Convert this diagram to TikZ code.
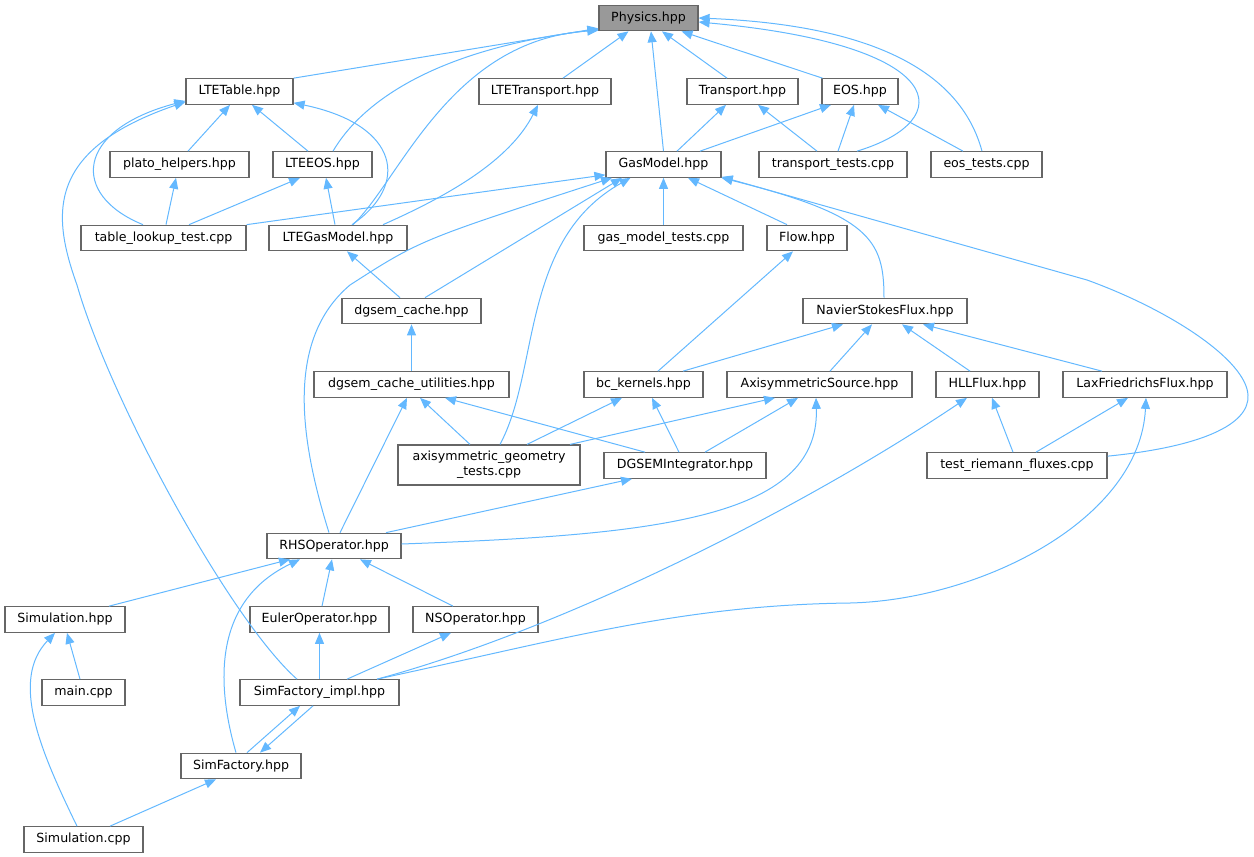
\documentclass[tikz,border=0pt]{standalone}
\usepackage{fontspec}
\setmainfont{DejaVu Sans}
\usetikzlibrary{arrows.meta}
\definecolor{edgeblue}{HTML}{63B8FF}
\definecolor{boxgray}{HTML}{666666}
\definecolor{physgray}{HTML}{999999}

\begin{document}
\begin{tikzpicture}[x=1pt, y=-1pt,
    file/.style={draw=boxgray, line width=1.2pt, fill=white, rectangle, inner sep=0pt,
      minimum height=25.5pt, font=\fontsize{12.6}{15}\selectfont},
    dep/.style={draw=edgeblue, line width=1pt, -{Triangle[length=11pt,width=9pt]}}]
    \useasboundingbox (0,0) rectangle (1254,857);

    % Include files, row by row
    \node[file, fill=physgray, minimum width=99pt] (physics) at (648.5,18) {Physics.hpp};

    \node[file, minimum width=107pt] (ltetable) at (239.5,91.5) {LTETable.hpp};
    \node[file, minimum width=132pt] (ltetransport) at (545,91.5) {LTETransport.hpp};
    \node[file, minimum width=111pt] (transport) at (742.5,91.5) {Transport.hpp};
    \node[file, minimum width=76pt] (eos) at (860,91.5) {EOS.hpp};

    \node[file, minimum width=139pt] (plato) at (179.5,164.5) {plato\_helpers.hpp};
    \node[file, minimum width=99pt] (lteeos) at (322.5,164.5) {LTEEOS.hpp};
    \node[file, minimum width=115pt] (gasmodel) at (663.5,164.5) {GasModel.hpp};
    \node[file, minimum width=148pt] (transporttests) at (833,164.5) {transport\_tests.cpp};
    \node[file, minimum width=111pt] (eostests) at (986.5,164.5) {eos\_tests.cpp};

    \node[file, minimum width=165pt] (tablelookup) at (163.5,238) {table\_lookup\_test.cpp};
    \node[file, minimum width=138pt] (ltegasmodel) at (338,238) {LTEGasModel.hpp};
    \node[file, minimum width=159pt] (gasmodeltests) at (663.5,238) {gas\_model\_tests.cpp};
    \node[file, minimum width=80pt] (flow) at (807,238) {Flow.hpp};

    \node[file, minimum width=139pt] (dgsemcache) at (411.5,311) {dgsem\_cache.hpp};
    \node[file, minimum width=164pt] (nsflux) at (885,311) {NavierStokesFlux.hpp};

    \node[file, minimum width=195pt] (dgsemutil) at (411.5,384.5) {dgsem\_cache\_utilities.hpp};
    \node[file, minimum width=119pt] (bckernels) at (643.5,384.5) {bc\_kernels.hpp};
    \node[file, minimum width=185pt] (axisource) at (819.5,384.5) {AxisymmetricSource.hpp};
    \node[file, minimum width=103pt] (hllflux) at (987.5,384.5) {HLLFlux.hpp};
    \node[file, minimum width=164pt] (laxflux) at (1145,384.5) {LaxFriedrichsFlux.hpp};

    \node[file, minimum width=182pt, minimum height=40pt, align=center] (axitests) at (489,465) {axisymmetric\_geometry\\\_tests.cpp};
    \node[file, minimum width=162pt] (dgsemint) at (685,465.5) {DGSEMIntegrator.hpp};
    \node[file, minimum width=180pt] (riemann) at (1017,465.5) {test\_riemann\_fluxes.cpp};

    \node[file, minimum width=134pt] (rhsop) at (334,546) {RHSOperator.hpp};

    \node[file, minimum width=120pt] (simhpp) at (65,619.5) {Simulation.hpp};
    \node[file, minimum width=139pt] (euler) at (319.5,619.5) {EulerOperator.hpp};
    \node[file, minimum width=125pt] (nsop) at (475.5,619.5) {NSOperator.hpp};

    \node[file, minimum width=83pt] (mainc) at (83.5,692.5) {main.cpp};
    \node[file, minimum width=159pt] (simimpl) at (319.5,692.5) {SimFactory\_impl.hpp};

    \node[file, minimum width=120pt] (simfactory) at (241,766) {SimFactory.hpp};
    \node[file, minimum width=119pt] (simcpp) at (83.5,839.5) {Simulation.cpp};

    % into Physics.hpp
    \draw[dep] (ltetable.north east) -- ([yshift=3pt]physics.south west);
    \draw[dep] ([xshift=10.5pt]lteeos.north) .. controls (360,105) and (430,50) .. ([yshift=2pt]physics.south west);
    \draw[dep] ([xshift=15pt]ltegasmodel.north) .. controls (400,180) and (450,40) .. ([yshift=1pt]physics.south west);
    \draw[dep] ([xshift=18pt]ltetransport.north) -- ([xshift=-20pt]physics.south);
    \draw[dep] (gasmodel.north) -- ([xshift=2.5pt]physics.south);
    \draw[dep] ([xshift=-15.5pt]transport.north) -- ([xshift=13.5pt]physics.south);
    \draw[dep] ([xshift=1pt]eos.north west) -- ([xshift=33pt]physics.south);
    \draw[dep] ([xshift=24pt]transporttests.north) .. controls (960,120) and (950,45) .. ([yshift=-4pt]physics.east);
    \draw[dep] ([xshift=-4.5pt]eostests.north) .. controls (960,70) and (870,25) .. (physics.east);

    % into LTETable.hpp
    \draw[dep] ([xshift=8.5pt]plato.north) -- ([xshift=-9.5pt]ltetable.south);
    \draw[dep] ([xshift=-14.5pt]lteeos.north) -- ([xshift=12.5pt]ltetable.south);
    \draw[dep] ([xshift=14pt]ltegasmodel.north) .. controls (410,185) and (400,125) .. ([yshift=2pt]ltetable.south east);
    \draw[dep] ([xshift=-20.5pt]tablelookup.north) .. controls (70,195) and (75,130) .. ([yshift=4pt]ltetable.south west);
    \draw[dep] ([xshift=-22.5pt]simimpl.north) .. controls (230,620) and (110,400) .. (77,285)
      .. controls (52,215) and (45,150) .. ([yshift=3pt]ltetable.south west);

    % LTEEOS.hpp, plato_helpers.hpp, LTETransport.hpp
    \draw[dep] ([xshift=25.5pt]tablelookup.north) -- ([xshift=-22.5pt]lteeos.south);
    \draw[dep] ([xshift=-3pt]ltegasmodel.north) -- ([xshift=3.5pt]lteeos.south);
    \draw[dep] ([xshift=2.5pt]tablelookup.north) -- ([xshift=-3.5pt]plato.south);
    \draw[dep] ([xshift=45pt]ltegasmodel.north) .. controls (450,195) and (510,160) .. ([xshift=-7pt]ltetransport.south);

    % Transport.hpp, EOS.hpp
    \draw[dep] ([xshift=13.5pt]gasmodel.north) -- ([xshift=-16.5pt]transport.south);
    \draw[dep] ([xshift=-16pt]transporttests.north) -- ([xshift=15.5pt]transport.south);
    \draw[dep] ([xshift=36.5pt]gasmodel.north) -- ([xshift=-29pt]eos.south);
    \draw[dep] ([xshift=5pt]transporttests.north) -- ([xshift=-6pt]eos.south);
    \draw[dep] ([xshift=-23.5pt]eostests.north) -- ([xshift=18pt]eos.south);

    % into GasModel.hpp
    \draw[dep] (tablelookup.north east) -- ([yshift=3pt]gasmodel.south west);
    \draw[dep] ([xshift=-5pt]rhsop.north) .. controls (300,440) and (285,340) .. (350,285)
      .. controls (420,240) .. ([xshift=-51.5pt]gasmodel.south);
    \draw[dep] ([xshift=13.5pt]dgsemcache.north) -- ([xshift=-41.5pt]gasmodel.south);
    \draw[dep] ([xshift=11pt]axitests.north) .. controls (540,370) and (520,240) .. ([xshift=-33pt]gasmodel.south);
    \draw[dep] (gasmodeltests.north) -- (gasmodel.south);
    \draw[dep] ([xshift=-20pt]flow.north) -- ([xshift=24.5pt]gasmodel.south);
    \draw[dep] ([xshift=-1pt]nsflux.north) .. controls (884,240) and (870,215) .. (gasmodel.south east);
    \draw[dep] ([yshift=-4pt]riemann.north east) .. controls (1200,447) and (1250,425) .. (1248,395)
      .. controls (1246,360) and (1170,310) .. (1087,280) -- ([yshift=1pt]gasmodel.south east);

    % Flow.hpp, NavierStokesFlux.hpp
    \draw[dep] ([xshift=14.5pt]bckernels.north) -- ([xshift=-14pt]flow.south);
    \draw[dep] ([xshift=39.5pt]bckernels.north) -- ([xshift=-42pt]nsflux.south);
    \draw[dep] ([xshift=10.5pt]axisource.north) -- ([xshift=-13pt]nsflux.south);
    \draw[dep] ([xshift=-17.5pt]hllflux.north) -- ([xshift=17pt]nsflux.south);
    \draw[dep] ([xshift=-43pt]laxflux.north) -- ([xshift=38pt]nsflux.south);

    % dgsem caches
    \draw[dep] (dgsemutil.north) -- (dgsemcache.south);
    \draw[dep] ([xshift=-11.5pt]dgsemcache.north) -- ([xshift=9pt]ltegasmodel.south);
    \draw[dep] ([xshift=6pt]rhsop.north) -- ([xshift=-4.5pt]dgsemutil.south);
    \draw[dep] ([xshift=-19pt]axitests.north) -- ([xshift=8.5pt]dgsemutil.south);
    \draw[dep] ([xshift=-40pt]dgsemint.north) -- ([xshift=33.5pt]dgsemutil.south);

    % bc_kernels.hpp, AxisymmetricSource.hpp
    \draw[dep] ([xshift=38pt]axitests.north) -- ([xshift=-21.5pt]bckernels.south);
    \draw[dep] ([xshift=-6pt]dgsemint.north) -- ([xshift=8.5pt]bckernels.south);
    \draw[dep] ([xshift=81pt]axitests.north) -- ([xshift=-44.5pt]axisource.south);
    \draw[dep] ([xshift=20pt]dgsemint.north) -- ([xshift=-21.5pt]axisource.south);
    \draw[dep] ([yshift=2pt]rhsop.east) .. controls (650,535) and (820,520) .. ([xshift=-3.5pt]axisource.south);

    % flux headers
    \draw[dep] ([xshift=-4pt]riemann.north) -- ([xshift=4.5pt]hllflux.south);
    \draw[dep] ([xshift=19pt]riemann.north) -- ([xshift=-17pt]laxflux.south);
    \draw[dep] ([xshift=57.5pt]simimpl.north) .. controls (560,630) and (800,510) .. ([xshift=-20.5pt]hllflux.south);
    \draw[dep] ([xshift=57.5pt]simimpl.north) .. controls (560,640) and (680,605) .. (850,603)
      .. controls (980,600) and (1140,520) .. ([xshift=1pt]laxflux.south);

    % DGSEMIntegrator.hpp, RHSOperator.hpp
    \draw[dep] ([xshift=52pt]rhsop.north) -- ([xshift=-53pt]dgsemint.south);
    \draw[dep] ([xshift=44pt]simhpp.north) -- ([xshift=-44pt]rhsop.south);
    \draw[dep] ([xshift=-5pt]simfactory.north) .. controls (215,680) and (215,600) .. ([xshift=-34pt]rhsop.south);
    \draw[dep] ([xshift=2.5pt]euler.north) -- ([xshift=-2pt]rhsop.south);
    \draw[dep] ([xshift=-22.5pt]nsop.north) -- ([xshift=26pt]rhsop.south);

    % bottom rows
    \draw[dep] ([xshift=-3.5pt]mainc.north) -- ([xshift=2pt]simhpp.south);
    \draw[dep] ([xshift=-6.5pt]simcpp.north) .. controls (40,750) and (10,680) .. ([xshift=-10pt]simhpp.south);
    \draw[dep] (simimpl.north) -- (euler.south);
    \draw[dep] ([xshift=27.5pt]simimpl.north) -- ([xshift=-24.5pt]nsop.south);
    \draw[dep] ([xshift=6pt]simfactory.north) -- ([xshift=-19.5pt]simimpl.south);
    \draw[dep] ([xshift=-6.5pt]simimpl.south) -- ([xshift=19pt]simfactory.north);
    \draw[dep] ([xshift=26.5pt]simcpp.north) -- ([xshift=-25pt]simfactory.south);
\end{tikzpicture}
\end{document}
